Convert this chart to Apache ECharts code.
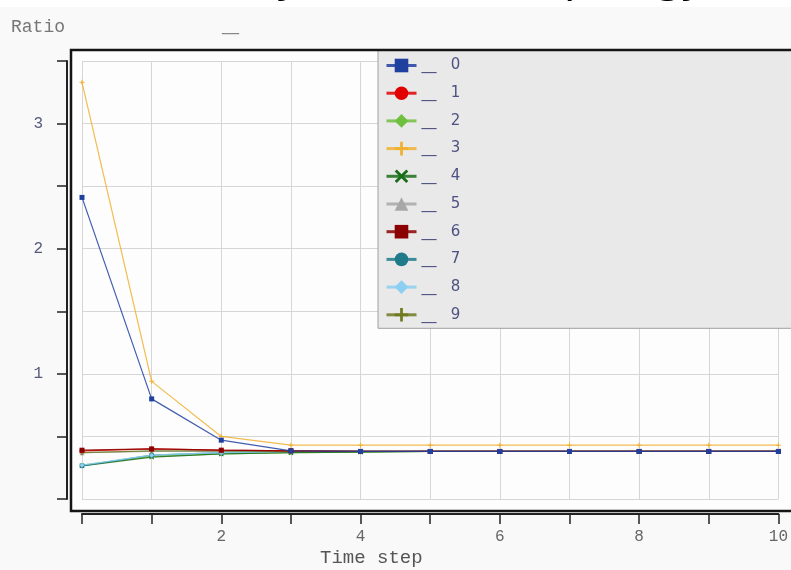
<!DOCTYPE html>
<html><head><meta charset="utf-8">
<script src="https://cdn.jsdelivr.net/npm/echarts@6/dist/echarts.min.js"></script>
<style>html,body{margin:0;padding:0;background:#f9f9f9}#c{width:791px;height:570px}</style>
</head><body><div id="c"></div>
<script>
// ---- data ----
const timeSteps = [0, 1, 2, 3, 4, 5, 6, 7, 8, 9, 10];
const seriesNames = ['0', '1', '2', '3', '4', '5', '6', '7', '8', '9'];
const s0 = [2.41, 0.80, 0.47, 0.385, 0.38, 0.38, 0.38, 0.38, 0.38, 0.38, 0.38];
const s1 = [0.385, 0.40, 0.39, 0.385, 0.38, 0.38, 0.38, 0.38, 0.38, 0.38, 0.38];
const s2 = [0.27, 0.34, 0.36, 0.37, 0.375, 0.38, 0.38, 0.38, 0.38, 0.38, 0.38];
const s3 = [3.33, 0.94, 0.50, 0.43, 0.43, 0.43, 0.43, 0.43, 0.43, 0.43, 0.43];
const s4 = [0.265, 0.335, 0.36, 0.37, 0.375, 0.38, 0.38, 0.38, 0.38, 0.38, 0.38];
const s5 = [0.37, 0.38, 0.38, 0.38, 0.38, 0.38, 0.38, 0.38, 0.38, 0.38, 0.38];
const s6 = [0.39, 0.40, 0.39, 0.385, 0.38, 0.38, 0.38, 0.38, 0.38, 0.38, 0.38];
const s7 = [0.265, 0.35, 0.37, 0.38, 0.38, 0.38, 0.38, 0.38, 0.38, 0.38, 0.38];
const s8 = [0.27, 0.35, 0.37, 0.38, 0.38, 0.38, 0.38, 0.38, 0.38, 0.38, 0.38];
const s9 = [0.37, 0.385, 0.385, 0.38, 0.38, 0.38, 0.38, 0.38, 0.38, 0.38, 0.38];
const xTickLabels = [2, 4, 6, 8, 10];
const yTickLabels = [1, 2, 3];
const titleText = 'Stability ratio over topology';
const yAxisName = 'Ratio';
const xAxisName = 'Time step';

// ---- styles ----
const allValues = [s0, s1, s2, s3, s4, s5, s6, s7, s8, s9];
const colors = ['#2040a0', '#e00000', '#70c040', '#f0b030', '#1a6e1a', '#a8a8a8', '#8b0000', '#207a8a', '#8ccff0', '#707a20'];
const plusPath = 'path://M4,0 L6,0 L6,4 L10,4 L10,6 L6,6 L6,10 L4,10 L4,6 L0,6 L0,4 L4,4 Z';
const xPath = 'path://M1.5,0 L5,3.5 L8.5,0 L10,1.5 L6.5,5 L10,8.5 L8.5,10 L5,6.5 L1.5,10 L0,8.5 L3.5,5 L0,1.5 Z';
const symbols = ['rect', 'circle', 'diamond', plusPath, xPath, 'triangle', 'rect', 'circle', 'diamond', plusPath];
const zOrder = [9, 3, 2, 2, 2, 2, 4, 2, 2, 2];

const series = seriesNames.map((n, i) => ({
  name: n,
  type: 'line',
  data: timeSteps.map((t, k) => [t, allValues[i][k]]),
  symbol: symbols[i],
  symbolSize: 5,
  showSymbol: true,
  z: zOrder[i],
  itemStyle: { color: colors[i] },
  lineStyle: { color: colors[i], width: 1.2, opacity: 0.85 },
  emphasis: { disabled: true },
  animation: false
}));

const chart = echarts.init(document.getElementById('c'));
chart.setOption({
  backgroundColor: '#f9f9f9',
  animation: false,
  grid: { left: 82, right: 3, top: 61, bottom: 71 },
  xAxis: {
    type: 'value', min: 0, max: 10, interval: 1, offset: 15,
    axisLine: { show: true, onZero: false, lineStyle: { color: '#222', width: 2 } },
    axisTick: { show: true, length: 10, lineStyle: { color: '#222', width: 1.5 } },
    splitLine: { show: true, lineStyle: { color: '#d6d6d6', width: 1 } },
    axisLabel: {
      margin: 15, fontFamily: 'Liberation Mono', fontSize: 16, color: '#666',
      formatter: v => (xTickLabels.indexOf(v) >= 0 ? String(v) : '')
    }
  },
  yAxis: {
    type: 'value', min: 0, max: 3.5, interval: 0.5, offset: 15,
    name: yAxisName, nameLocation: 'end', nameGap: 25,
    nameTextStyle: { fontFamily: 'Liberation Mono', fontSize: 18, color: '#777', align: 'right', padding: [0, 2, 0, 0] },
    axisLine: { show: true, onZero: false, lineStyle: { color: '#222', width: 2 } },
    axisTick: { show: true, length: 10, lineStyle: { color: '#222', width: 1.5 } },
    splitLine: { show: true, lineStyle: { color: '#d6d6d6', width: 1 } },
    axisLabel: {
      margin: 24, fontFamily: 'Liberation Mono', fontSize: 16, color: '#55597a',
      formatter: v => (yTickLabels.indexOf(v) >= 0 ? String(v) : '')
    }
  },
  legend: {
    orient: 'vertical', left: 378, top: 50,
    padding: [8, 345, 6, 7],
    backgroundColor: '#e9e9e9', borderColor: '#a0a0a0', borderWidth: 1, borderRadius: 0,
    itemWidth: 30, itemHeight: 17, itemGap: 12.7,
    lineStyle: { width: 3 },
    formatter: n => '__   ' + n,
    textStyle: { fontFamily: 'DejaVu Sans', fontSize: 15, color: '#4d5280' },
    selectedMode: false,
    z: 20,
    data: seriesNames
  },
  graphic: [
    { type: 'rect', z: -20, silent: true, shape: { x: 0, y: 0, width: 791, height: 7 }, style: { fill: '#ffffff' } },
    { type: 'text', z: -5, silent: true, x: 136, y: -1, style: { text: titleText, font: '44px "Noto Sans"', fill: '#000', verticalAlign: 'bottom', align: 'left' } },
    { type: 'rect', z: -10, silent: true, shape: { x: 71, y: 50, width: 800, height: 461 }, style: { fill: '#fdfdfd' } },
    { type: 'rect', z: 100, silent: true, shape: { x: 71, y: 50, width: 800, height: 461 }, style: { fill: 'none', stroke: '#151515', lineWidth: 2.5 } },
    { type: 'text', left: 320, top: 548, silent: true, style: { text: xAxisName, font: '19px "Liberation Mono"', fill: '#555' } },
    { type: 'text', left: 222, top: 17, silent: true, style: { text: '__', font: '17px "DejaVu Sans"', fill: '#888' } }
  ],
  series: series
});
</script></body></html>
